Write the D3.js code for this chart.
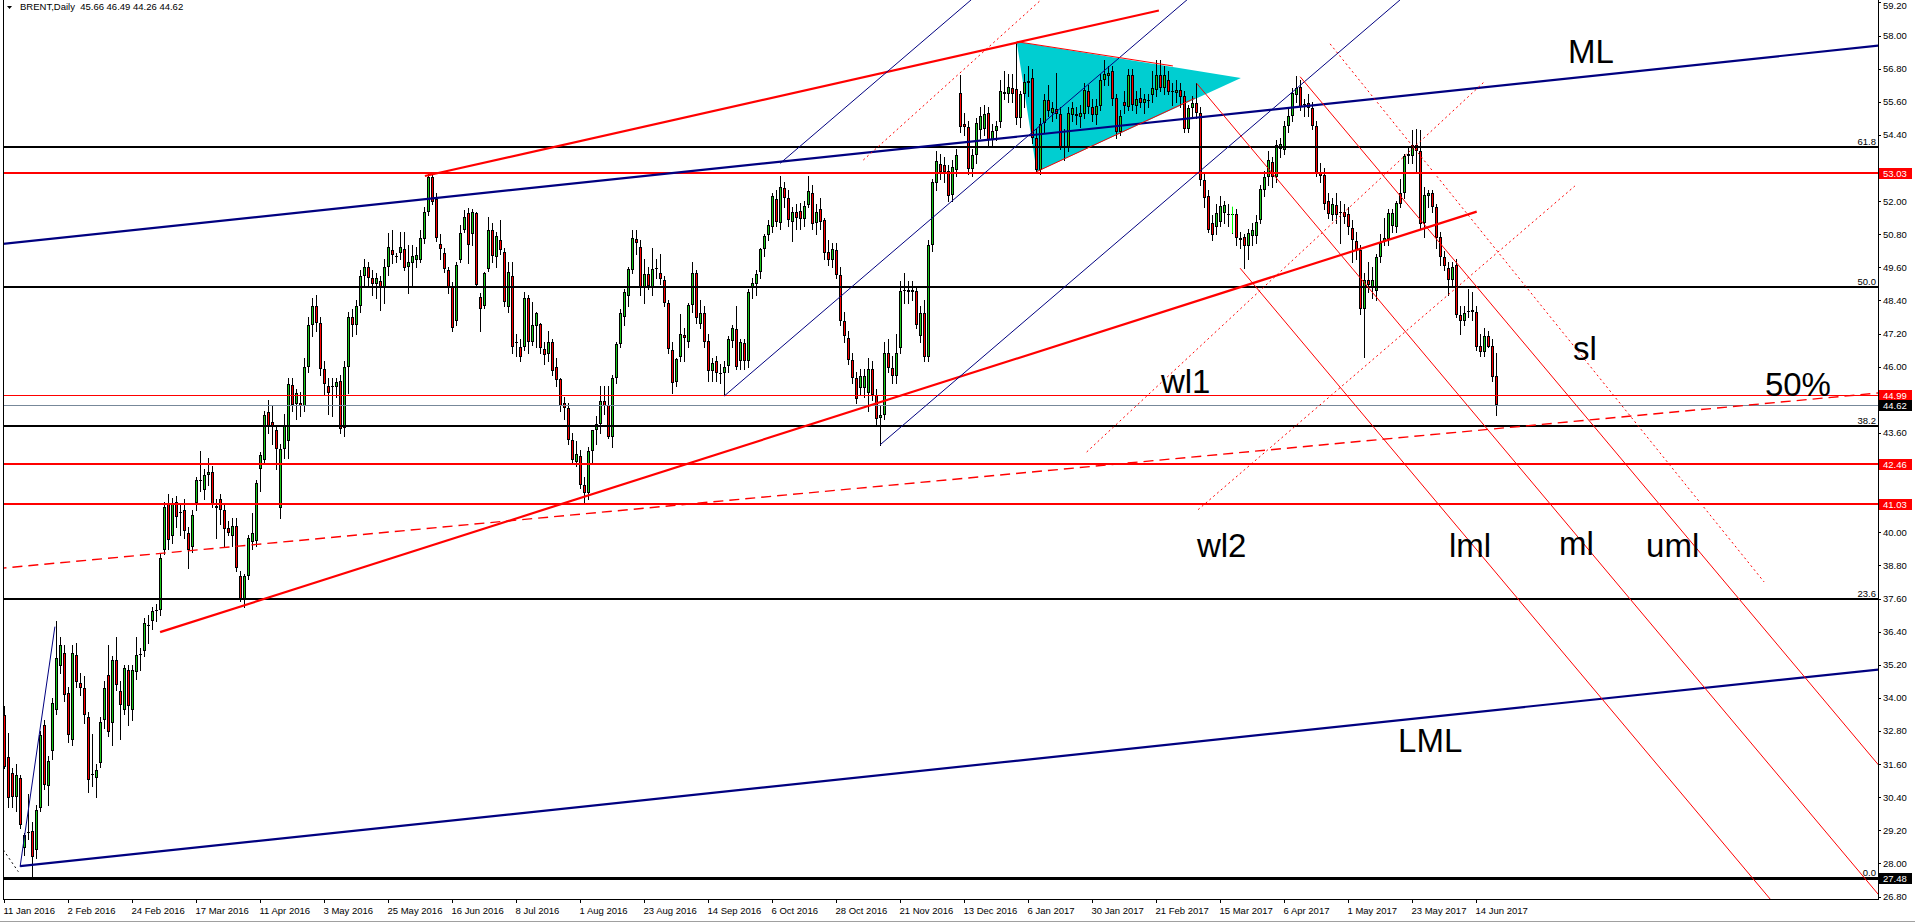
<!DOCTYPE html>
<html>
<head>
<meta charset="utf-8">
<script src="https://cdn.jsdelivr.net/npm/d3@7"></script>
<style>
body { margin: 0; background: #fff; overflow: hidden; }
svg { display: block; font-family: "Liberation Sans", Arial, sans-serif; }
</style>
</head>
<body>
<svg id="chart" width="1915" height="923"></svg>
<script>
// daily bars, [open, high, low, close], 11 Jan 2016 .. 21 Jun 2017
var candles = [
[33.38,33.69,31.45,31.51],[31.87,32.72,30.06,30.36],[31.27,31.45,30.06,30.40],[30.40,31.60,29.90,31.20],[31.09,31.20,29.30,29.40],
[28.55,29.10,28.30,29.04],[29.10,30.50,28.90,29.15],[29.16,29.50,27.48,28.25],[28.50,30.10,28.20,29.94],[30.00,32.80,29.90,32.66],
[33.02,33.20,30.70,30.85],[30.79,31.90,30.10,31.70],[32.06,34.00,31.80,33.80],[33.57,36.79,33.40,35.44],[35.14,36.20,34.90,35.92],
[35.62,35.90,33.90,34.11],[34.17,34.40,32.40,32.66],[32.48,35.90,32.30,35.62],[35.56,36.00,34.40,34.59],[34.53,34.90,34.10,34.35],
[34.35,34.80,33.08,33.38],[33.32,33.50,30.60,31.03],[31.21,32.70,30.80,31.25],[31.09,31.60,30.40,31.39],[31.63,33.30,31.50,33.14],
[33.20,34.60,32.90,34.35],[34.83,35.90,32.60,32.78],[33.08,35.50,32.30,35.38],[35.38,36.20,34.30,34.47],[34.23,34.60,32.50,33.75],
[33.57,35.20,33.40,35.07],[35.01,35.20,33.00,33.69],[33.57,35.20,33.20,35.01],[34.95,36.20,34.70,35.56],[35.56,35.80,35.00,35.60],
[35.68,36.90,35.50,36.71],[36.61,37.00,36.00,36.65],[36.77,37.30,36.50,37.13],[37.15,37.40,36.80,37.18],[37.19,39.20,37.00,39.06],
[39.36,41.10,39.20,40.93],[41.05,41.40,39.40,39.72],[39.85,41.25,39.60,41.05],[41.08,41.30,40.20,40.57],[40.72,41.00,39.90,40.75],
[40.81,41.20,39.80,40.03],[39.99,40.20,38.70,39.34],[39.48,40.80,39.30,40.63],[41.05,42.00,40.80,41.90],[41.86,42.95,41.50,41.90],
[41.54,42.30,41.20,42.06],[42.08,42.70,41.70,42.18],[42.18,42.40,40.90,41.03],[40.87,41.20,39.80,40.96],[41.20,41.40,40.30,40.79],
[40.79,41.00,39.50,40.11],[40.15,40.40,39.90,39.99],[39.85,40.50,39.50,40.21],[40.23,40.50,38.60,38.70],[38.40,38.60,37.50,37.55],
[37.55,38.50,37.30,38.40],[38.40,39.90,38.30,39.79],[39.63,40.70,39.40,39.97],[39.67,41.90,39.50,41.78],[42.29,42.90,41.50,42.81],
[42.63,44.40,42.50,44.26],[44.35,44.80,43.60,43.86],[43.98,44.60,43.20,43.81],[43.71,43.90,42.30,43.01],[40.87,43.20,40.50,43.01],
[43.01,44.30,42.70,43.86],[43.29,45.60,42.70,45.38],[45.32,45.60,44.40,44.62],[44.65,45.20,44.10,45.04],[44.68,45.10,44.20,44.59],
[44.56,46.30,44.40,46.00],[46.00,47.80,45.80,47.50],[47.50,48.50,47.10,48.20],[48.20,48.60,47.30,47.60],[47.60,47.80,45.70,45.90],
[45.90,46.20,45.00,45.38],[45.30,45.60,44.30,45.06],[45.30,45.60,44.20,45.28],[45.25,45.60,44.90,45.44],[45.50,45.70,43.60,43.74],
[43.77,46.20,43.50,46.00],[46.00,48.00,45.04,47.80],[47.80,48.10,47.10,47.50],[47.50,48.40,47.20,48.20],[48.20,49.50,48.00,49.30],
[49.30,49.90,48.90,49.60],[49.60,49.80,48.90,49.20],[49.20,49.50,48.60,49.00],[49.00,49.40,48.50,49.20],[49.09,49.30,48.06,48.84],
[48.90,49.90,48.30,49.63],[49.63,50.84,49.33,50.35],[50.23,50.96,49.75,50.05],[49.99,50.11,49.81,50.02],[50.11,50.90,49.90,50.35],
[50.26,50.90,49.50,49.57],[49.63,50.40,48.66,49.78],[49.75,50.40,48.97,50.02],[49.87,50.35,49.60,50.05],[49.87,50.96,49.81,50.66],
[50.62,51.80,50.50,51.62],[51.59,53.00,51.50,52.89],[52.89,53.03,51.90,51.98],[52.07,52.29,50.54,50.66],[50.45,50.80,49.90,50.26],
[50.11,50.30,49.45,49.53],[49.51,49.60,48.66,48.90],[48.90,49.08,47.28,47.40],[47.64,49.80,47.50,49.69],[49.87,51.14,49.81,50.84],
[50.96,51.68,50.90,51.44],[51.56,51.74,49.75,50.41],[50.81,51.71,50.41,51.59],[51.56,51.60,48.90,48.97],[48.54,48.66,47.28,48.08],
[48.20,49.45,48.12,49.41],[49.53,51.44,49.48,50.94],[50.94,51.20,49.80,50.00],[49.97,50.90,49.60,50.74],[50.60,51.30,50.10,50.23],
[50.17,50.30,48.20,48.36],[48.18,49.80,48.00,49.45],[49.27,49.80,46.50,46.73],[46.85,47.20,46.40,46.88],[46.73,47.00,46.20,46.37],
[46.73,48.70,46.60,48.48],[48.48,48.60,46.50,46.88],[46.91,48.36,46.80,47.52],[47.46,48.00,46.70,47.96],[47.55,47.60,46.50,46.67],
[46.63,46.90,46.10,46.43],[46.47,47.30,46.20,46.88],[46.88,47.00,45.70,45.83],[45.98,46.30,45.30,45.52],[45.55,45.60,44.40,44.56],
[44.70,44.90,44.10,44.50],[44.50,44.70,43.20,43.33],[43.33,43.60,42.50,42.62],[42.53,43.30,42.40,42.84],[42.77,43.00,41.60,41.72],
[41.72,42.00,41.03,41.42],[41.44,43.10,41.20,42.93],[42.93,43.70,42.50,43.69],[43.69,44.20,43.20,43.93],[43.93,45.30,43.60,44.77],
[44.77,45.30,44.30,44.58],[44.62,45.30,43.40,43.45],[43.47,45.70,43.10,45.58],[45.58,46.90,45.40,46.83],[46.83,48.10,46.70,47.94],
[47.80,48.80,47.50,48.69],[48.57,49.60,48.20,49.53],[49.49,50.95,49.40,50.66],[50.62,50.95,50.10,50.50],[50.35,50.60,48.60,48.90],
[48.90,49.90,48.30,49.36],[49.36,49.60,48.80,48.92],[48.88,50.30,48.60,49.53],[49.53,49.90,49.20,49.56],[49.41,50.10,49.00,49.17],
[49.15,49.30,48.20,48.30],[48.30,48.40,46.50,46.63],[46.61,46.90,45.04,45.40],[45.46,46.30,45.30,46.27],[46.37,47.90,46.20,47.20],
[47.15,47.40,46.20,47.03],[46.91,48.30,46.70,48.24],[48.24,49.80,48.00,49.39],[49.39,49.50,47.60,47.76],[47.55,48.40,47.40,47.94],
[47.94,48.20,46.70,46.88],[46.95,47.20,45.50,45.83],[45.86,46.30,45.50,46.13],[46.22,46.40,45.50,45.79],[45.76,46.10,45.40,45.78],
[45.76,46.20,44.98,45.98],[46.03,47.10,45.80,46.99],[46.95,47.50,46.70,47.40],[47.36,48.20,45.90,45.98],[46.19,47.00,45.90,46.91],
[46.87,47.00,45.90,46.22],[46.22,48.80,46.00,48.69],[48.88,49.20,48.50,49.05],[49.00,49.50,48.60,49.36],[49.45,50.30,49.20,50.26],
[50.26,50.80,50.00,50.72],[50.78,51.30,50.60,51.14],[51.08,52.30,50.90,52.17],[52.08,52.40,51.10,51.26],[51.20,52.90,51.00,52.53],
[52.47,52.70,51.80,52.10],[52.10,52.40,51.10,51.32],[51.26,51.80,50.55,51.62],[51.62,51.90,51.00,51.38],[51.65,51.95,51.00,51.35],
[51.35,52.00,51.10,51.83],[51.87,52.90,51.80,52.37],[52.31,52.60,51.00,51.18],[51.20,51.90,50.80,51.62],[51.71,52.10,51.00,51.23],
[51.32,51.40,49.90,50.11],[50.17,50.60,49.70,49.87],[49.85,50.50,49.60,50.26],[50.23,50.50,49.20,49.33],[49.33,49.60,47.50,47.64],
[47.64,48.00,46.90,47.12],[47.03,47.30,46.10,46.25],[46.25,46.50,45.40,45.58],[45.58,45.80,44.70,44.82],[45.22,45.90,45.00,45.65],
[45.22,45.90,44.90,45.67],[45.04,46.30,44.40,45.91],[45.91,46.20,44.80,44.98],[44.98,45.20,43.90,44.10],[44.13,44.60,43.17,44.26],
[44.26,46.90,44.10,46.49],[46.49,47.00,45.80,45.95],[45.95,46.40,45.40,45.65],[45.67,47.20,45.40,46.51],[46.67,49.10,46.50,48.76],
[48.76,49.40,48.30,48.79],[48.79,49.10,48.30,48.69],[48.69,49.10,48.40,48.79],[48.76,48.90,47.40,47.52],[47.10,48.20,46.90,47.96],
[47.94,48.40,46.20,46.37],[46.37,50.60,46.20,50.42],[50.42,52.80,50.20,52.71],[52.67,53.80,52.40,53.44],[53.35,53.70,52.80,53.07],
[53.31,53.60,52.70,53.04],[53.11,53.30,52.00,52.19],[52.23,53.50,52.00,53.25],[53.13,53.90,52.90,53.68],[55.91,56.58,54.50,54.70],
[54.80,55.20,54.40,54.70],[54.70,54.90,53.00,53.16],[53.16,53.90,52.90,53.68],[53.68,55.00,53.40,54.83],[54.58,55.40,54.30,55.09],
[54.61,55.50,54.40,55.16],[55.19,55.40,54.00,54.20],[54.22,54.80,54.00,54.56],[54.56,54.90,54.20,54.73],[54.88,56.40,54.70,56.01],
[55.89,56.70,55.70,55.97],[55.89,56.60,55.60,56.13],[56.09,56.60,55.60,55.89],[56.06,57.78,54.80,55.01],[55.01,56.00,54.70,55.89],
[55.89,56.60,55.40,56.33],[56.30,56.90,55.80,56.34],[56.46,56.80,54.10,54.28],[54.28,54.60,53.07,53.13],[53.13,55.00,53.00,54.80],
[54.83,55.90,54.50,55.67],[55.65,56.20,55.10,55.25],[55.21,55.60,54.90,55.37],[55.33,56.65,55.00,55.16],[55.16,55.40,53.90,53.98],
[53.96,54.60,53.50,54.00],[53.98,55.40,53.80,55.19],[55.13,55.60,54.90,55.37],[55.16,55.40,54.80,55.07],[55.04,55.50,54.70,55.19],
[55.16,56.30,55.00,56.03],[56.01,56.20,55.20,55.43],[55.40,55.70,54.90,55.13],[55.13,55.70,54.80,55.45],[55.45,56.60,55.30,56.40],
[56.40,57.10,56.20,56.61],[56.52,56.90,56.20,56.66],[56.70,56.90,55.50,55.69],[55.73,55.90,54.30,54.52],[54.52,55.30,54.40,55.07],
[55.61,56.00,55.20,55.45],[55.43,56.80,55.30,56.58],[56.58,56.80,55.30,55.49],[55.45,56.00,55.20,55.69],[55.75,56.10,55.40,55.55],
[55.55,55.90,55.20,55.69],[55.67,55.90,55.40,55.64],[55.85,56.70,55.60,56.09],[56.03,57.10,55.80,56.58],[56.58,57.10,56.00,56.09],
[56.09,56.90,55.90,56.58],[56.39,56.70,55.90,55.97],[55.97,56.30,55.50,56.00],[55.91,56.40,55.60,56.03],[56.03,56.30,55.40,55.79],
[55.81,56.00,54.50,54.61],[54.61,55.50,54.50,55.37],[55.37,55.80,55.10,55.57],[55.57,56.27,55.00,55.21],[55.21,55.40,52.60,52.77],
[52.77,53.00,51.80,52.11],[52.17,52.40,50.90,50.96],[51.20,51.50,50.60,50.78],[51.08,51.90,50.80,51.56],[51.26,52.20,51.10,51.83],
[51.56,52.00,51.20,51.87],[51.50,51.90,51.10,51.52],[51.50,51.80,50.84,51.52],[51.53,51.70,50.40,50.66],[50.66,50.90,50.30,50.60],
[50.69,50.80,49.57,50.36],[50.38,51.00,49.90,50.86],[50.74,51.20,50.40,50.96],[50.74,51.50,50.50,51.26],[51.32,52.60,51.20,52.43],
[52.41,53.10,52.20,52.89],[52.87,53.80,52.60,53.50],[53.41,53.60,52.50,52.89],[52.89,54.20,52.70,54.04],[53.90,54.30,53.60,54.06],
[53.86,54.90,53.70,54.73],[54.73,55.40,54.50,55.09],[55.09,56.10,54.90,55.91],[55.85,56.52,55.60,56.09],[56.13,56.40,55.30,55.43],
[55.49,55.70,55.10,55.52],[55.55,55.90,55.10,55.37],[55.37,55.60,54.60,54.73],[54.73,54.90,52.90,53.01],[53.04,53.40,52.70,52.92],
[52.95,53.20,51.70,51.90],[51.99,52.30,51.40,51.54],[51.50,52.10,51.30,51.90],[51.87,52.30,51.20,51.50],[51.59,52.00,50.48,51.61],
[51.59,51.90,51.20,51.44],[51.54,51.80,50.80,51.08],[51.02,51.30,49.80,50.60],[50.57,50.90,49.90,50.23],[50.23,50.40,47.90,48.08],
[48.08,49.40,46.37,49.15],[49.15,49.80,48.70,48.97],[48.85,49.60,48.50,49.15],[48.73,50.10,48.40,49.97],[49.97,50.80,49.80,50.50],
[50.54,51.40,50.40,50.66],[50.62,51.70,50.40,51.56],[51.10,51.70,50.90,51.56],[51.08,52.00,50.90,51.92],[52.29,52.80,51.80,51.90],
[52.29,53.70,52.10,53.62],[53.62,54.00,53.40,53.71],[53.62,54.58,53.40,54.04],[54.04,54.60,53.10,53.83],[53.83,54.58,51.00,51.18],
[51.20,52.50,50.70,52.23],[52.17,52.40,51.80,52.29],[52.29,52.40,51.60,51.80],[51.80,51.90,50.30,50.66],[50.69,50.90,49.70,49.97],
[49.97,50.20,49.50,49.66],[49.57,49.80,48.60,49.15],[49.15,49.80,48.90,49.60],[49.69,49.90,47.80,47.88],[47.88,48.20,47.20,47.64],
[47.67,48.20,47.50,47.96],[48.00,48.80,47.80,48.02],[48.00,48.70,47.70,48.05],[48.00,48.20,46.60,46.73],[46.76,47.20,46.40,46.55],
[46.55,47.40,46.40,47.12],[47.12,47.30,46.70,46.73],[46.76,47.00,45.50,45.64],[45.66,46.49,44.26,44.62]
];

var xTickBars = [0,16,32,48,64,80,96,112,128,144,160,176,192,208,224,240,256,272,288,304,320,336,352,368];
var xTickLabels = ["11 Jan 2016","2 Feb 2016","24 Feb 2016","17 Mar 2016","11 Apr 2016","3 May 2016",
  "25 May 2016","16 Jun 2016","8 Jul 2016","1 Aug 2016","23 Aug 2016","14 Sep 2016","6 Oct 2016",
  "28 Oct 2016","21 Nov 2016","13 Dec 2016","6 Jan 2017","30 Jan 2017","21 Feb 2017","15 Mar 2017",
  "6 Apr 2017","1 May 2017","23 May 2017","14 Jun 2017"];
var yTicks = [59.2,58.0,56.8,55.6,54.4,53.2,52.0,50.8,49.6,48.4,47.2,46.0,44.8,43.6,42.4,41.2,
  40.0,38.8,37.6,36.4,35.2,34.0,32.8,31.6,30.4,29.2,28.0,26.8];

// fibonacci retracement 27.48 -> 70.33
var fibLow = 27.48, fibHigh = 70.33;
var fibLevels = [0, 23.6, 38.2, 50.0, 61.8];

var redLevels = [53.03, 42.46, 41.03];
var thinRedLevels = [44.99];
var bidPrice = 44.62;
var redTags = [53.03, 44.99, 42.46, 41.03];
var blackTags = [44.62, 27.48];

// objects: [bar1, price1, bar2, price2]
var medianLines = [[-2, 50.43, 470, 57.66], [3.9, 27.90, 470, 35.05]];
var channelLines = [[105.1, 52.91, 288.6, 58.91], [38.9, 36.38, 368.05, 51.62]];
var halfLine = [[-2, 38.68, 470, 45.07]];
var thinBlueLines = [[3.9, 27.88, 12.6, 36.58], [193.9, 53.37, 245, 59.71],
  [179.95, 44.94, 300, 59.84], [218.9, 43.17, 352, 59.68]];
var forkLines = [[308.9, 49.57, 445, 26.09], [298.05, 56.27, 470, 26.61], [323.9, 56.51, 470, 31.31],
  [253.05, 57.78, 292.1, 56.90], [258.05, 53.07, 297.6, 55.73]];
var warnLines = [[331.4, 57.70, 439.9, 38.20], [214.7, 53.49, 262, 59.67],
  [270.55, 42.91, 369.9, 56.32], [298.4, 40.82, 392.6, 52.55]];
var handleLines = [[-0.3, 28.49, 3.45, 27.70]];
var triangle = [[253.05, 57.78], [258.05, 53.07], [309.1, 56.46]];
var markBar = [[307, 51.80, 307, 50.84]];

// text objects: [text, bar, price]
var notes = [["ML", 390.9, 57.01], ["sl", 392.1, 46.25], ["wl1", 289.1, 45.05], ["50%", 440.1, 44.94],
  ["wl2", 298.1, 39.11], ["lml", 361.1, 39.11], ["ml", 388.6, 39.18], ["uml", 410.4, 39.11],
  ["LML", 348.4, 32.04]];

var W = 1915, H = 923, plotL = 3, plotR = 1878, plotB = 899;
var n = candles.length;
var x = d3.scaleLinear().domain([0, n - 1]).range([4.5, 4.5 + 4 * (n - 1)]);
var y = d3.scaleLinear().domain([26.71, 59.29]).range([plotB, 0]);

var svg = d3.select("#chart");
svg.append("rect").attr("width", W).attr("height", H).attr("fill", "#fff");

svg.append("clipPath").attr("id", "clip")
  .append("rect").attr("x", plotL).attr("y", 0).attr("width", plotR - plotL).attr("height", plotB);
var plot = svg.append("g").attr("clip-path", "url(#clip)");

// triangle (background object)
plot.append("path")
  .attr("d", d3.line().x(function(d) { return x(d[0]); }).y(function(d) { return y(d[1]); })(triangle) + "Z")
  .attr("fill", "#00CED1");

// candles
var gC = plot.append("g").attr("shape-rendering", "crispEdges");
gC.selectAll("line.wick").data(candles).join("line")
  .attr("x1", function(d, i) { return x(i); }).attr("x2", function(d, i) { return x(i); })
  .attr("y1", function(d) { return Math.round(y(d[1])); })
  .attr("y2", function(d) { return Math.round(y(d[2])) + 1; })
  .attr("stroke", "#000");
candles.forEach(function(d, i) {
  var cx = x(i);
  var top = Math.round(y(Math.max(d[0], d[3])));
  var bot = Math.round(y(Math.min(d[0], d[3])));
  if (bot - top < 2) {
    gC.append("rect").attr("x", cx - 1.5).attr("y", top).attr("width", 3).attr("height", 1).attr("fill", "#000");
    return;
  }
  gC.append("rect").attr("x", cx - 1.5).attr("y", top).attr("width", 3).attr("height", bot - top).attr("fill", "#000");
  gC.append("rect").attr("x", cx - 0.5).attr("y", top + 1).attr("width", 1).attr("height", bot - top - 2)
    .attr("fill", d[3] >= d[0] ? "#18c818" : "#ff0000");
});

// horizontal levels
function hline(p, color, width) {
  var yy = Math.round(y(p)) + (width % 2 ? 0.5 : 0);
  plot.append("line").attr("x1", plotL).attr("x2", plotR).attr("y1", yy).attr("y2", yy)
    .attr("stroke", color).attr("stroke-width", width).attr("shape-rendering", "crispEdges");
}
fibLevels.forEach(function(l) { hline(fibLow + (fibHigh - fibLow) * l / 100, "#000", l === 0 ? 3 : 2); });
redLevels.forEach(function(p) { hline(p, "#ff0000", 2); });
thinRedLevels.forEach(function(p) { hline(p, "#ff0000", 1); });
hline(bidPrice, "#778899", 1);

// trend objects
function segs(arr, color, width, dash) {
  plot.append("g").selectAll("line").data(arr).join("line")
    .attr("x1", function(d) { return x(d[0]); }).attr("y1", function(d) { return y(d[1]); })
    .attr("x2", function(d) { return x(d[2]); }).attr("y2", function(d) { return y(d[3]); })
    .attr("stroke", color).attr("stroke-width", width)
    .attr("stroke-dasharray", dash || null).attr("fill", "none");
}
segs(medianLines, "#000080", 2.2);
segs(channelLines, "#ff0000", 2.2);
segs(halfLine, "#ff0000", 1.4, "10,6");
segs(thinBlueLines, "#000080", 1);
segs(forkLines, "#ff0000", 1);
segs(warnLines, "#ff0000", 1, "2,3");
segs(handleLines, "#000", 1, "2,3");
segs(markBar, "#00ff00", 1);

// fib labels
fibLevels.forEach(function(l) {
  var p = fibLow + (fibHigh - fibLow) * l / 100;
  plot.append("text").attr("x", plotR - 2).attr("y", Math.round(y(p)) - 2)
    .attr("text-anchor", "end").attr("font-size", "9.5px").attr("fill", "#000")
    .text(l.toFixed(1));
});

// object names
plot.selectAll("text.note").data(notes).join("text")
  .attr("x", function(d) { return x(d[1]); }).attr("y", function(d) { return y(d[2]); })
  .attr("font-size", "33px").attr("fill", "#000").text(function(d) { return d[0]; });

// frame
var frame = svg.append("g").attr("shape-rendering", "crispEdges");
frame.append("line").attr("x1", plotL + 0.5).attr("x2", plotL + 0.5).attr("y1", 0).attr("y2", plotB + 1).attr("stroke", "#000");
frame.append("line").attr("x1", plotL).attr("x2", plotR + 1).attr("y1", plotB + 0.5).attr("y2", plotB + 0.5).attr("stroke", "#000");
frame.append("line").attr("x1", plotR + 0.5).attr("x2", plotR + 0.5).attr("y1", 0).attr("y2", plotB + 1).attr("stroke", "#000");

// price axis; labels hidden under a price tag are left out
var allTags = redTags.concat(blackTags);
var shownTicks = yTicks.filter(function(t) {
  return !allTags.some(function(p) { return Math.abs(y(p) - y(t)) < 10; });
});
var yAxis = svg.append("g");
yAxis.selectAll("line").data(yTicks).join("line")
  .attr("x1", plotR).attr("x2", plotR + 3)
  .attr("y1", function(d) { return Math.round(y(d)) + 0.5; }).attr("y2", function(d) { return Math.round(y(d)) + 0.5; })
  .attr("stroke", "#000").attr("shape-rendering", "crispEdges");
yAxis.selectAll("text").data(shownTicks).join("text")
  .attr("x", plotR + 5).attr("y", function(d) { return Math.max(y(d) + 3.5, 8.5); })
  .attr("font-size", "9.5px").attr("fill", "#000").text(function(d) { return d.toFixed(2); });

function tag(p, bg) {
  var yy = Math.round(y(p));
  svg.append("rect").attr("x", plotR + 1).attr("y", yy - 5).attr("width", 33).attr("height", 11)
    .attr("fill", bg).attr("shape-rendering", "crispEdges");
  svg.append("text").attr("x", plotR + 5).attr("y", yy + 3.5).attr("font-size", "9.5px")
    .attr("fill", "#fff").text(p.toFixed(2));
}
redTags.forEach(function(p) { tag(p, "#ff0000"); });
blackTags.forEach(function(p) { tag(p, "#000"); });

// time axis
var xAxis = svg.append("g");
xAxis.selectAll("line").data(xTickBars).join("line")
  .attr("x1", function(d) { return x(d); }).attr("x2", function(d) { return x(d); })
  .attr("y1", plotB).attr("y2", plotB + 4).attr("stroke", "#000").attr("shape-rendering", "crispEdges");
xAxis.selectAll("text").data(xTickBars).join("text")
  .attr("x", function(d) { return x(d) - 1; }).attr("y", 914)
  .attr("font-size", "9.5px").attr("fill", "#000")
  .text(function(d, i) { return xTickLabels[i]; });

// window edge
svg.append("line").attr("x1", 0).attr("x2", W).attr("y1", 921.5).attr("y2", 921.5)
  .attr("stroke", "#a0a0a0").attr("shape-rendering", "crispEdges");

// header
var last = candles[n - 1];
svg.append("path").attr("d", "M7,6 L12,6 L9.5,9 Z").attr("fill", "#000");
svg.append("text").attr("x", 20).attr("y", 10).attr("font-size", "9.5px").attr("fill", "#000")
  .attr("xml:space", "preserve")
  .text("BRENT,Daily  " + last.map(function(v) { return v.toFixed(2); }).join(" "));
</script>
</body>
</html>
